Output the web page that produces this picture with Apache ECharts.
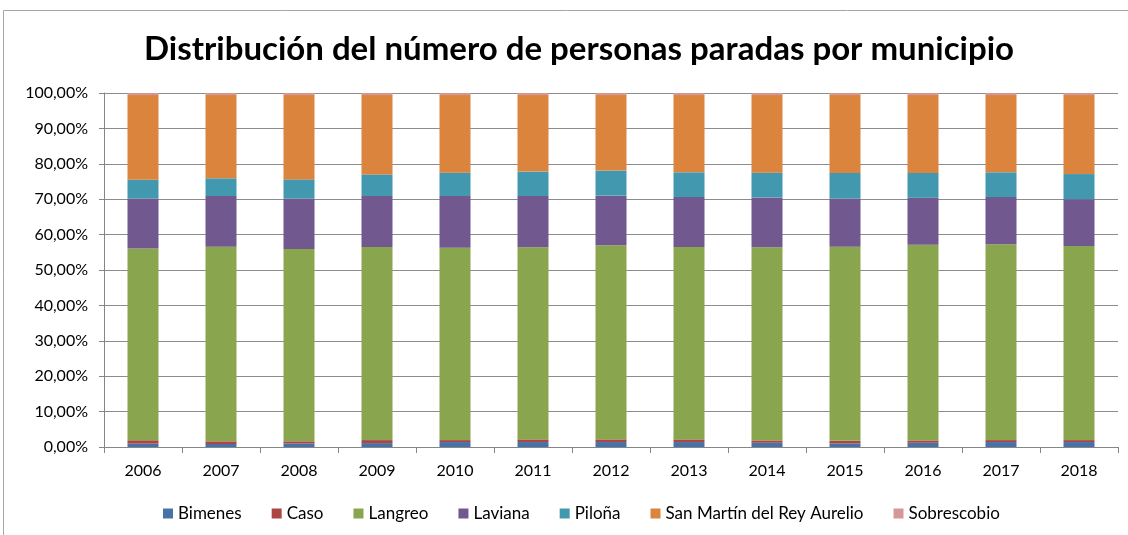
<!DOCTYPE html>
<html>
<head>
<meta charset="utf-8">
<script src="https://cdn.jsdelivr.net/npm/echarts@6/dist/echarts.min.js"></script>
<style>html,body{margin:0;padding:0;background:#fff}#c{width:1128px;height:535px}</style>
</head>
<body>
<div id="c"></div>
<script>
const years = ['2006','2007','2008','2009','2010','2011','2012','2013','2014','2015','2016','2017','2018'];
const bimenes     = [0.95,0.85,1.0,1.1,1.4,1.4,1.4,1.4,1.2,1.0,1.2,1.4,1.4];
const caso        = [0.95,0.75,0.6,0.85,0.55,0.75,0.75,0.75,0.65,0.75,0.65,0.55,0.55];
const langreo     = [54.2,55.0,54.3,54.55,54.35,54.25,54.85,54.35,54.55,54.85,55.25,55.35,54.85];
const laviana     = [14.1,14.3,14.3,14.4,14.6,14.5,14.0,14.1,14.1,13.6,13.3,13.3,13.2];
const pilona      = [5.3,5.0,5.4,6.1,6.6,6.9,7.1,7.0,7.0,7.2,7.0,7.0,7.1];
const sanMartin   = [23.9,23.5,23.8,22.4,21.9,21.6,21.3,21.8,21.9,22.0,22.0,21.8,22.3];
const sobrescobio = [0.6,0.6,0.6,0.6,0.6,0.6,0.6,0.6,0.6,0.6,0.6,0.6,0.6];
const yTicks = [0,10,20,30,40,50,60,70,80,90,100];

const seriesDefs = [
  ['Bimenes', bimenes, '#4672A8'],
  ['Caso', caso, '#AD4542'],
  ['Langreo', langreo, '#89A54E'],
  ['Laviana', laviana, '#71588F'],
  ['Piloña', pilona, '#4298AF'],
  ['San Martín del Rey Aurelio', sanMartin, '#DB843D'],
  ['Sobrescobio', sobrescobio, '#D59896']
];
const font = 'Lato, "Liberation Sans", sans-serif';
const chart = echarts.init(document.getElementById('c'));
chart.setOption({
  animation: false,
  backgroundColor: '#fff',
  graphic: [{type:'rect', shape:{x:3.5,y:10.5,width:1200,height:600}, style:{fill:'none',stroke:'#a6a6a6',lineWidth:1}, silent:true}],
  title: {text:'Distribución del número de personas paradas por municipio', left:139, top:28,
    textStyle:{fontFamily:font, fontWeight:'bold', fontSize:33, color:'#000'}},
  legend: {top:500, left:158, itemWidth:10, itemHeight:10, itemGap:30, icon:'rect',
    textStyle:{fontFamily:font, fontSize:17, color:'#000'}},
  grid: {left:104, right:10, top:93, bottom:88},
  xAxis: {type:'category', data:years,
    axisLine:{lineStyle:{color:'#868686'}},
    axisTick:{show:true, length:6, lineStyle:{color:'#868686'}},
    axisLabel:{fontFamily:font, fontSize:16, color:'#000', margin:16}},
  yAxis: {type:'value', min:0, max:100, interval:10,
    axisLine:{show:true, lineStyle:{color:'#868686'}},
    axisTick:{show:true, inside:false, length:5, lineStyle:{color:'#868686'}},
    splitLine:{lineStyle:{color:'#8c8c8c'}},
    axisLabel:{fontFamily:font, fontSize:16, color:'#000', margin:16,
      formatter: v => v.toFixed(2).replace('.', ',') + '%'}},
  series: seriesDefs.map(([name, data, color]) => ({
    name, type:'bar', stack:'total', data, barWidth:31,
    itemStyle:{color}
  }))
});
</script>
</body>
</html>
